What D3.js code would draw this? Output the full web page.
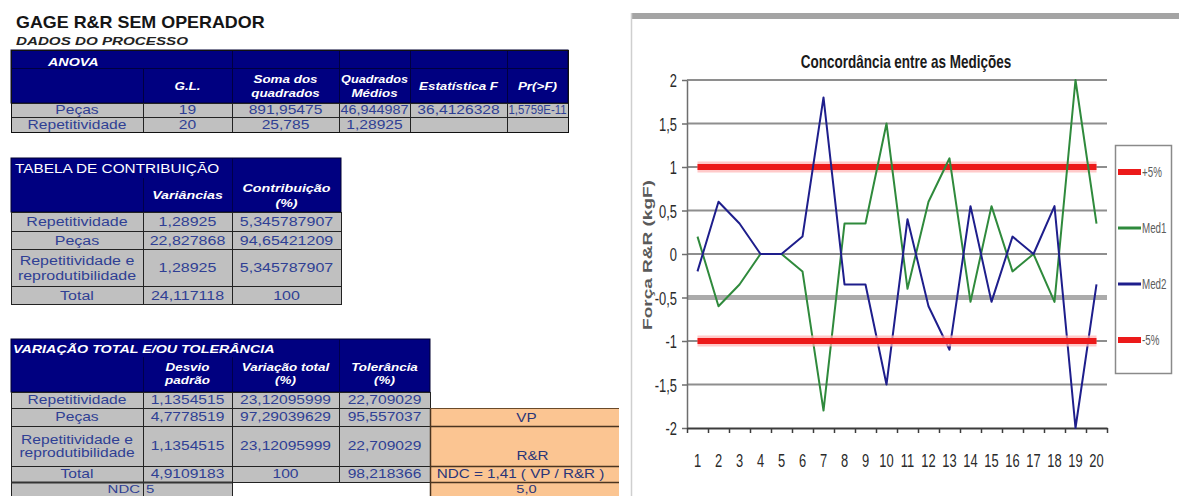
<!DOCTYPE html>
<html>
<head>
<meta charset="utf-8">
<script src="https://cdn.jsdelivr.net/npm/d3@7"></script>
<style>
  html, body { margin: 0; padding: 0; background: #fff; }
  svg { display: block; }
</style>
</head>
<body>
<svg id="page" width="1179" height="496"></svg>
<script>
// ---------- data ----------
const parts = ["1","2","3","4","5","6","7","8","9","10","11","12","13","14","15","16","17","18","19","20"];
const med1 = [0.2, -0.6, -0.35, 0, 0, -0.2, -1.8, 0.35, 0.35, 1.5, -0.4, 0.6, 1.1, -0.55, 0.55, -0.2, 0, -0.55, 2, 0.35];
const med2 = [-0.2, 0.6, 0.35, 0, 0, 0.2, 1.8, -0.35, -0.35, -1.5, 0.4, -0.6, -1.1, 0.55, -0.55, 0.2, 0, 0.55, -2, -0.35];
const upperLimit = 1;   // +5%
const lowerLimit = -1;  // -5%
const yTicks = [-2, -1.5, -1, -0.5, 0, 0.5, 1, 1.5, 2];
const legendLabels = ["+5%", "Med1", "Med2", "-5%"];

const anovaHeaders = [["G.L."], ["Soma dos", "quadrados"], ["Quadrados", "Médios"], ["Estatística F"], ["Pr(>F)"]];
const anovaRows = ["Peças", "Repetitividade"];
const anovaValues = [
  ["19", "891,95475", "46,944987", "36,4126328", "1,5759E-11"],
  ["20", "25,785", "1,28925", "", ""]
];

const contribHeaders = [["Variâncias"], ["Contribuição", "(%)"]];
const sourceRows = [["Repetitividade"], ["Peças"], ["Repetitividade e", "reprodutibilidade"], ["Total"]];
const contribValues = [
  ["1,28925", "5,345787907"],
  ["22,827868", "94,65421209"],
  ["1,28925", "5,345787907"],
  ["24,117118", "100"]
];

const variationHeaders = [["Desvio", "padrão"], ["Variação total", "(%)"], ["Tolerância", "(%)"]];
const variationValues = [
  ["1,1354515", "23,12095999", "22,709029"],
  ["4,7778519", "97,29039629", "95,557037"],
  ["1,1354515", "23,12095999", "22,709029"],
  ["4,9109183", "100", "98,218366"]
];
const ndcLabel = "NDC";
const ndcValue = "5";
const ndcNotes = ["VP", "R&R", "NDC = 1,41 ( VP / R&R )", "5,0"];

// ---------- helpers ----------
const svg = d3.select("#page");
const FONT = "'Liberation Sans', Arial, Helvetica, sans-serif";
const NAVY = "#000080";
const CELL = "#c0c0c0";
const INK = "#2f3f94";

function label(parent, x, y, str, o = {}) {
  const size = o.size || 12;
  const t = parent.append("text")
    .attr("font-family", FONT)
    .attr("font-size", size)
    .attr("font-weight", o.bold ? "bold" : "normal")
    .attr("font-style", o.italic ? "italic" : "normal")
    .attr("fill", o.fill || "#000")
    .attr("text-anchor", o.anchor || "middle")
    .text(str);
  let k = o.sx || 1;
  if (o.maxW) {
    const w = t.node().getComputedTextLength();
    if (w * k > o.maxW) k = o.maxW / w;
  }
  t.attr("transform", `translate(${x},${y}) scale(${k},1)`);
  return t;
}

function lines(parent, cx, cy, arr, lineH, o) {
  const n = arr.length;
  const size = o.size || 12;
  arr.forEach((s, i) => {
    const base = cy + (i - (n - 1) / 2) * lineH + size * 0.36;
    label(parent, cx, base, s, o);
  });
}

function cells(g, cols, ys, fill, stroke) {
  for (let r = 0; r < ys.length - 1; r++) {
    for (let c = 0; c < cols.length - 1; c++) {
      g.append("rect")
        .attr("x", cols[c] + 0.5).attr("y", ys[r] + 0.5)
        .attr("width", cols[c + 1] - cols[c]).attr("height", ys[r + 1] - ys[r])
        .attr("fill", fill).attr("stroke", stroke).attr("stroke-width", 1);
    }
  }
}

function header(g, x0, y0, x1, y1) {
  g.append("rect").attr("x", x0).attr("y", y0).attr("width", x1 - x0).attr("height", y1 - y0)
    .attr("fill", NAVY).attr("stroke", "#000030").attr("stroke-width", 1);
}

function vline(g, x, y0, y1, color, w) {
  g.append("line").attr("x1", x + 0.5).attr("x2", x + 0.5).attr("y1", y0).attr("y2", y1)
    .attr("stroke", color).attr("stroke-width", w || 1);
}
function hline(g, y, x0, x1, color, w) {
  g.append("line").attr("x1", x0).attr("x2", x1).attr("y1", y + 0.5).attr("y2", y + 0.5)
    .attr("stroke", color).attr("stroke-width", w || 1);
}

// ---------- sheet headings ----------
const sheet = svg.append("g");
label(sheet, 16, 28, "GAGE R&R SEM OPERADOR", { anchor: "start", size: 16, bold: true, sx: 1.12, fill: "#151515" });
label(sheet, 16, 45, "DADOS DO PROCESSO", { anchor: "start", size: 11, bold: true, italic: true, sx: 1.38, fill: "#222" });

const headTxt = { size: 10.5, bold: true, italic: true, fill: "#fff", sx: 1.28 };
const cellTxt = { size: 12, fill: INK, sx: 1.3 };

// ---------- ANOVA ----------
{
  const g = sheet.append("g");
  const cols = [11, 143, 232, 339, 410, 507, 568];
  header(g, 11, 50, 568, 103);
  hline(g, 68, 11, 568, "#000040");
  vline(g, 143, 68, 103, "#000040");
  cols.slice(2, -1).forEach(x => vline(g, x, 50, 103, "#000040"));
  label(g, 48, 66, "ANOVA", { ...headTxt, size: 11, anchor: "start", sx: 1.3 });
  anovaHeaders.forEach((h, i) => {
    const cx = (cols[i + 1] + cols[i + 2]) / 2;
    lines(g, cx, 86, h, 14, { ...headTxt, maxW: cols[i + 2] - cols[i + 1] - 4 });
  });
  const ys = [103, 117, 132];
  cells(g, cols, ys, CELL, "#222");
  anovaRows.forEach((r, i) => {
    const cy = (ys[i] + ys[i + 1]) / 2;
    lines(g, (cols[0] + cols[1]) / 2, cy, [r], 12, cellTxt);
    anovaValues[i].forEach((v, j) => {
      if (!v) return;
      lines(g, (cols[j + 1] + cols[j + 2]) / 2, cy, [v], 12, { ...cellTxt, maxW: cols[j + 2] - cols[j + 1] - 3 });
    });
  });
  g.append("rect").attr("x", 11.5).attr("y", 50.5).attr("width", 557).attr("height", 82)
    .attr("fill", "none").attr("stroke", "#111").attr("stroke-width", 1);
}

// ---------- TABELA DE CONTRIBUIÇÃO ----------
{
  const g = sheet.append("g");
  const cols = [11, 143, 232, 341];
  header(g, 11, 158, 341, 212);
  vline(g, 143, 178, 212, "#00004a");
  vline(g, 232, 158, 212, "#00004a");
  label(g, 15, 173, "TABELA DE CONTRIBUIÇÃO", { anchor: "start", size: 13, fill: "#fff", sx: 1.18 });
  contribHeaders.forEach((h, i) => {
    lines(g, (cols[i + 1] + cols[i + 2]) / 2, 195, h, 15, { ...headTxt, size: 11.5, sx: 1.24 });
  });
  const ys = [212, 231, 249, 286, 304];
  cells(g, cols, ys, CELL, "#222");
  const t2 = { size: 12.5, fill: INK, sx: 1.28 };
  sourceRows.forEach((r, i) => {
    const cy = (ys[i] + ys[i + 1]) / 2;
    lines(g, (cols[0] + cols[1]) / 2, cy, r, 15, { ...t2, maxW: 128 });
    contribValues[i].forEach((v, j) => {
      lines(g, (cols[j + 1] + cols[j + 2]) / 2, cy, [v], 15, { ...t2, maxW: cols[j + 2] - cols[j + 1] - 3 });
    });
  });
}

// ---------- VARIAÇÃO TOTAL E/OU TOLERÂNCIA ----------
{
  const g = sheet.append("g");
  const cols = [11, 143, 232, 339, 430];
  header(g, 11, 339, 430, 392);
  vline(g, 143, 357, 392, "#00004a");
  vline(g, 232, 357, 392, "#00004a");
  vline(g, 339, 339, 392, "#00004a");
  label(g, 13, 353, "VARIAÇÃO TOTAL E/OU TOLERÂNCIA", { ...headTxt, size: 11, anchor: "start", sx: 1.3 });
  variationHeaders.forEach((h, i) => {
    lines(g, (cols[i + 1] + cols[i + 2]) / 2, 374, h, 13, headTxt);
  });
  const ys = [392, 408, 426, 466, 482];
  cells(g, cols, ys, CELL, "#222");
  sourceRows.forEach((r, i) => {
    const cy = (ys[i] + ys[i + 1]) / 2;
    lines(g, (cols[0] + cols[1]) / 2, cy, r, 12.5, { ...cellTxt, maxW: 128 });
    variationValues[i].forEach((v, j) => {
      lines(g, (cols[j + 1] + cols[j + 2]) / 2, cy, [v], 12.5, { ...cellTxt, maxW: cols[j + 2] - cols[j + 1] - 3 });
    });
  });
  // NDC row
  cells(g, [11, 143, 232], [482, 499], CELL, "#222");
  hline(g, 482, 11, 232, "#333", 2);
  label(g, 140, 493, ndcLabel, { ...cellTxt, size: 11.5, anchor: "end" });
  label(g, 146, 493, ndcValue, { ...cellTxt, size: 11.5, anchor: "start" });

  // orange notes column
  const ox0 = 430, ox1 = 619;
  const oy = [408, 426, 466, 482, 499];
  g.append("rect").attr("x", ox0).attr("y", oy[0]).attr("width", ox1 - ox0).attr("height", oy[4] - oy[0])
    .attr("fill", "#fbc592");
  vline(g, ox0, oy[0], oy[4], "#4a3420", 1.5);
  oy.slice(1, 4).forEach(y => hline(g, y, ox0, ox1, "#4a3420", 1.5));
  hline(g, oy[0], ox0, ox1, "#6a4a2a", 1);
  const cx = (ox0 + ox1) / 2 + 2;
  const noteTxt = { size: 12, fill: "#2a3578", sx: 1.27 };
  label(g, cx, 421.5, ndcNotes[0], noteTxt);
  label(g, cx + 6, 459.5, ndcNotes[1], noteTxt);
  label(g, cx - 6, 478, ndcNotes[2], { ...noteTxt, maxW: ox1 - ox0 - 6 });
  label(g, cx, 493, ndcNotes[3], { ...noteTxt, size: 11.5 });
}

// ---------- chart ----------
const chart = svg.append("g");
// chart frame
chart.append("rect").attr("x", 631).attr("y", 13).attr("width", 548).attr("height", 6).attr("fill", "#a4a4a4");
chart.append("line").attr("x1", 631.5).attr("x2", 631.5).attr("y1", 13).attr("y2", 496)
  .attr("stroke", "#cfcfcf").attr("stroke-width", 1.5);

const x = d3.scaleBand().domain(parts).range([687, 1107]).paddingInner(0).paddingOuter(0);
const y = d3.scaleLinear().domain([-2, 2]).range([428, 80]);
const cxOf = c => x(c) + x.bandwidth() / 2;

const ptBR = d3.formatLocale({ decimal: ",", thousands: ".", grouping: [3], currency: ["R$", ""], minus: "-" });
const fmt = ptBR.format("~g");
const SX = 0.68;

// title
label(chart, 906, 68, "Concordância entre as Medições", { size: 18, bold: true, sx: 0.75, fill: "#1a1a1a" });

// horizontal gridlines
chart.append("g").selectAll("line")
  .data(yTicks.filter(v => v !== -2))
  .join("line")
  .attr("x1", 687).attr("x2", 1107)
  .attr("y1", d => y(d)).attr("y2", d => y(d))
  .attr("stroke", d => d === -0.5 ? "#ababab" : "#8e8e8e")
  .attr("stroke-width", d => d === -0.5 ? 5 : 2);

// y axis
const yAxis = chart.append("g").attr("transform", "translate(687,0)")
  .call(d3.axisLeft(y).tickValues(yTicks).tickSize(5).tickSizeOuter(0).tickFormat(fmt));
yAxis.attr("font-family", FONT).attr("font-size", 19);
yAxis.select(".domain").attr("stroke", "#6e6e6e").attr("stroke-width", 1.5);
yAxis.selectAll(".tick line").attr("stroke", "#6e6e6e").attr("stroke-width", 1.5);
yAxis.selectAll(".tick text")
  .attr("x", 0).attr("dy", "0.35em").attr("fill", "#2a2a2a")
  .attr("transform", `translate(-10,0) scale(${SX},1)`);

// x axis
const xAxis = chart.append("g").attr("transform", "translate(0,428)")
  .call(d3.axisBottom(x).tickSize(0).tickSizeOuter(0));
xAxis.attr("font-family", FONT).attr("font-size", 19);
xAxis.select(".domain").attr("stroke", "#3c3c3c").attr("stroke-width", 1.8);
xAxis.selectAll(".tick text")
  .attr("y", 0).attr("dy", 0).attr("fill", "#2a2a2a")
  .attr("transform", `translate(0,39) scale(${SX},1)`);
xAxis.append("g").selectAll("line")
  .data(parts.map(c => x(c)).concat([x.range()[1]]))
  .join("line")
  .attr("x1", d => d + 0.5).attr("x2", d => d + 0.5)
  .attr("y1", 0).attr("y2", 5)
  .attr("stroke", "#3c3c3c").attr("stroke-width", 1.5);

// y axis title
chart.append("text")
  .attr("font-family", FONT).attr("font-size", 19).attr("font-weight", "bold")
  .attr("fill", "#5a5a5a").attr("text-anchor", "middle")
  .attr("transform", "translate(652,255) rotate(-90) scale(1,0.72)")
  .text("Força R&R (kgF)");

// limit line helper (+5% / -5%)
function limitLine(v) {
  const pts = parts.map(c => [cxOf(c), y(v)]);
  const gen = d3.line();
  chart.append("path").attr("d", gen(pts)).attr("fill", "none")
    .attr("stroke", "#ffb4b4").attr("stroke-opacity", 0.7).attr("stroke-width", 11);
  chart.append("path").attr("d", gen(pts)).attr("fill", "none")
    .attr("stroke", "#ec1a1a").attr("stroke-width", 6);
}
const seriesLine = d3.line().x((d, i) => cxOf(parts[i])).y(d => y(d));

limitLine(upperLimit);
chart.append("path").datum(med1).attr("d", seriesLine).attr("fill", "none")
  .attr("stroke", "#2f8a3c").attr("stroke-width", 2).attr("stroke-linejoin", "round");
chart.append("path").datum(med2).attr("d", seriesLine).attr("fill", "none")
  .attr("stroke", "#1e1e8c").attr("stroke-width", 2).attr("stroke-linejoin", "round");
limitLine(lowerLimit);

// legend
const legend = chart.append("g");
legend.append("rect").attr("x", 1115.5).attr("y", 145.5).attr("width", 56).attr("height", 228)
  .attr("fill", "#fff").attr("stroke", "#8a8a8a").attr("stroke-width", 1.5);
const legendStyle = [
  { color: "#ec1a1a", w: 6 },
  { color: "#2f8a3c", w: 3 },
  { color: "#1e1e8c", w: 3 },
  { color: "#ec1a1a", w: 6 }
];
legendLabels.forEach((name, i) => {
  const ly = 172 + i * 56;
  legend.append("line").attr("x1", 1118).attr("x2", 1141).attr("y1", ly).attr("y2", ly)
    .attr("stroke", legendStyle[i].color).attr("stroke-width", legendStyle[i].w);
  label(legend, 1142, ly + 5, name, { anchor: "start", size: 14, sx: 0.7, fill: "#5c5c5c" });
});
</script>
</body>
</html>
